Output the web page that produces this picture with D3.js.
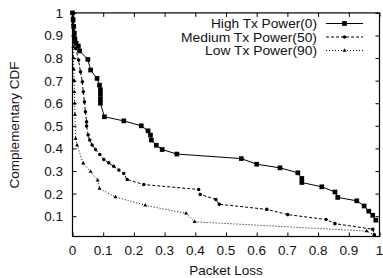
<!DOCTYPE html>
<html><head><meta charset="utf-8">
<script src="https://cdn.jsdelivr.net/npm/d3@7/dist/d3.min.js"></script>
<style>body{margin:0;background:#fff}svg{display:block}text{font-family:"Liberation Sans",Arial,sans-serif;fill:#111}</style>
</head><body>
<script>
const seriesNames = ["High Tx Power(0)", "Medium Tx Power(50)", "Low Tx Power(90)"];
const xTicks = [0,0.1,0.2,0.3,0.4,0.5,0.6,0.7,0.8,0.9,1];
const xTickLabels = ["0","0.1","0.2","0.3","0.4","0.5","0.6","0.7","0.8","0.9","1"];
const yTicks = [0.1,0.2,0.3,0.4,0.5,0.6,0.7,0.8,0.9,1];
const yTickLabels = ["0.1","0.2","0.3","0.4","0.5","0.6","0.7","0.8","0.9","1"];
const highX = [0,0.002,0.004,0.006,0.008,0.012,0.019,0.023,0.05,0.059,0.08,0.088,0.091,0.091,0.091,0.091,0.104,0.167,0.224,0.246,0.254,0.257,0.273,0.292,0.34,0.55,0.60,0.676,0.734,0.747,0.747,0.812,0.855,0.864,0.926,0.95,0.965,0.978,0.988];
const highY = [1,0.97,0.94,0.91,0.885,0.865,0.853,0.832,0.794,0.747,0.71,0.68,0.66,0.64,0.62,0.60,0.54,0.522,0.50,0.478,0.459,0.437,0.414,0.395,0.375,0.355,0.33,0.314,0.292,0.267,0.249,0.23,0.207,0.183,0.168,0.145,0.122,0.104,0.082];
const medX = [0,0.001,0.002,0.003,0.004,0.005,0.007,0.01,0.02,0.026,0.032,0.035,0.039,0.042,0.046,0.046,0.051,0.056,0.064,0.075,0.089,0.102,0.118,0.134,0.151,0.167,0.178,0.232,0.411,0.416,0.467,0.478,0.633,0.701,0.826,0.855,0.978,0.983];
const medY = [1,0.98,0.96,0.94,0.92,0.9,0.87,0.843,0.791,0.739,0.695,0.651,0.606,0.562,0.518,0.499,0.459,0.437,0.415,0.395,0.373,0.351,0.336,0.321,0.304,0.289,0.262,0.24,0.218,0.196,0.174,0.153,0.13,0.107,0.085,0.067,0.042,0.018];
const lowX = [0,0.001,0.002,0.003,0.003,0.004,0.005,0.006,0.007,0.008,0.01,0.015,0.035,0.059,0.082,0.088,0.14,0.237,0.37,0.398,0.958,0.983];
const lowY = [1,0.95,0.9,0.85,0.8,0.75,0.7,0.65,0.6,0.55,0.444,0.414,0.334,0.297,0.259,0.222,0.185,0.148,0.112,0.075,0.034,0.018];

const W = 383, H = 278;
const svg = d3.select("body").append("svg").attr("width", W).attr("height", H);
const x = d3.scaleLinear().domain([0,1]).range([72.5,379.5]);
const y = d3.scaleLinear().domain([0.01,1]).range([236.5,12.9]);
const FS = "13.5px";

// ticks (inward, mirrored)
const axB = d3.axisBottom(x).tickValues(xTicks).tickSize(-4).tickFormat("");
const axT = d3.axisTop(x).tickValues(xTicks).tickSize(-4).tickFormat("");
const axL = d3.axisLeft(y).tickValues(yTicks).tickSize(-4).tickFormat("");
const axR = d3.axisRight(y).tickValues(yTicks).tickSize(-4).tickFormat("");
[[axB,`translate(0,236.5)`],[axT,`translate(0,12.9)`],[axL,`translate(72.5,0)`],[axR,`translate(379.5,0)`]].forEach(([a,t])=>{
  const g = svg.append("g").attr("transform",t).call(a);
  g.select(".domain").remove();
  g.selectAll("line").attr("stroke","#000").attr("stroke-width",1);
});
svg.append("rect").attr("x",72.5).attr("y",12.9).attr("width",307).attr("height",223.6)
  .attr("fill","none").attr("stroke","#000").attr("stroke-width",1.2);

// tick labels
svg.append("g").selectAll("text").data(xTicks).join("text")
  .attr("x",d=>x(d)).attr("y",255).attr("text-anchor","middle").style("font-size",FS)
  .text((d,i)=>xTickLabels[i]);
svg.append("g").selectAll("text").data(yTicks).join("text")
  .attr("x",63).attr("y",d=>y(d)+5).attr("text-anchor","end").style("font-size",FS)
  .text((d,i)=>yTickLabels[i]);
svg.append("text").attr("x",226).attr("y",275).attr("text-anchor","middle").style("font-size",FS).text("Packet Loss");
svg.append("text").attr("transform","translate(19,125) rotate(-90)").attr("text-anchor","middle").style("font-size",FS).text("Complementary CDF");

const line = d3.line().x(d=>x(d[0])).y(d=>y(d[1]));
const series = [
  {xs:highX, ys:highY, dash:null, sym:d3.symbolSquare, size:22},
  {xs:medX, ys:medY, dash:"3,2", sym:d3.symbolCircle, size:10},
  {xs:lowX, ys:lowY, dash:"1,2", sym:d3.symbolTriangle, size:7}
];
series.forEach(s=>{
  const pts = s.xs.map((v,i)=>[v,s.ys[i]]);
  svg.append("path").datum(pts).attr("d",line).attr("fill","none").attr("stroke","#000")
    .attr("stroke-width",1).attr("stroke-dasharray",s.dash);
  svg.append("g").selectAll("path").data(pts).join("path")
    .attr("transform",d=>`translate(${x(d[0])},${y(d[1])})`)
    .attr("d",d3.symbol().type(s.sym).size(s.size)).attr("fill","#000");
});

// legend
const legY = [23.5,37,50.5];
const legW = [106,136,112];
series.forEach((s,i)=>{
  svg.append("text").attr("x",317).attr("y",legY[i]+4.5).attr("text-anchor","end")
    .style("font-size","12px").attr("textLength",legW[i]).attr("lengthAdjust","spacingAndGlyphs")
    .text(seriesNames[i]);
  svg.append("line").attr("x1",326).attr("x2",363).attr("y1",legY[i]).attr("y2",legY[i])
    .attr("stroke","#000").attr("stroke-width",1).attr("stroke-dasharray",s.dash);
  svg.append("path").attr("transform",`translate(344.5,${legY[i]})`)
    .attr("d",d3.symbol().type(s.sym).size(s.size)).attr("fill","#000");
});
</script>
</body></html>
